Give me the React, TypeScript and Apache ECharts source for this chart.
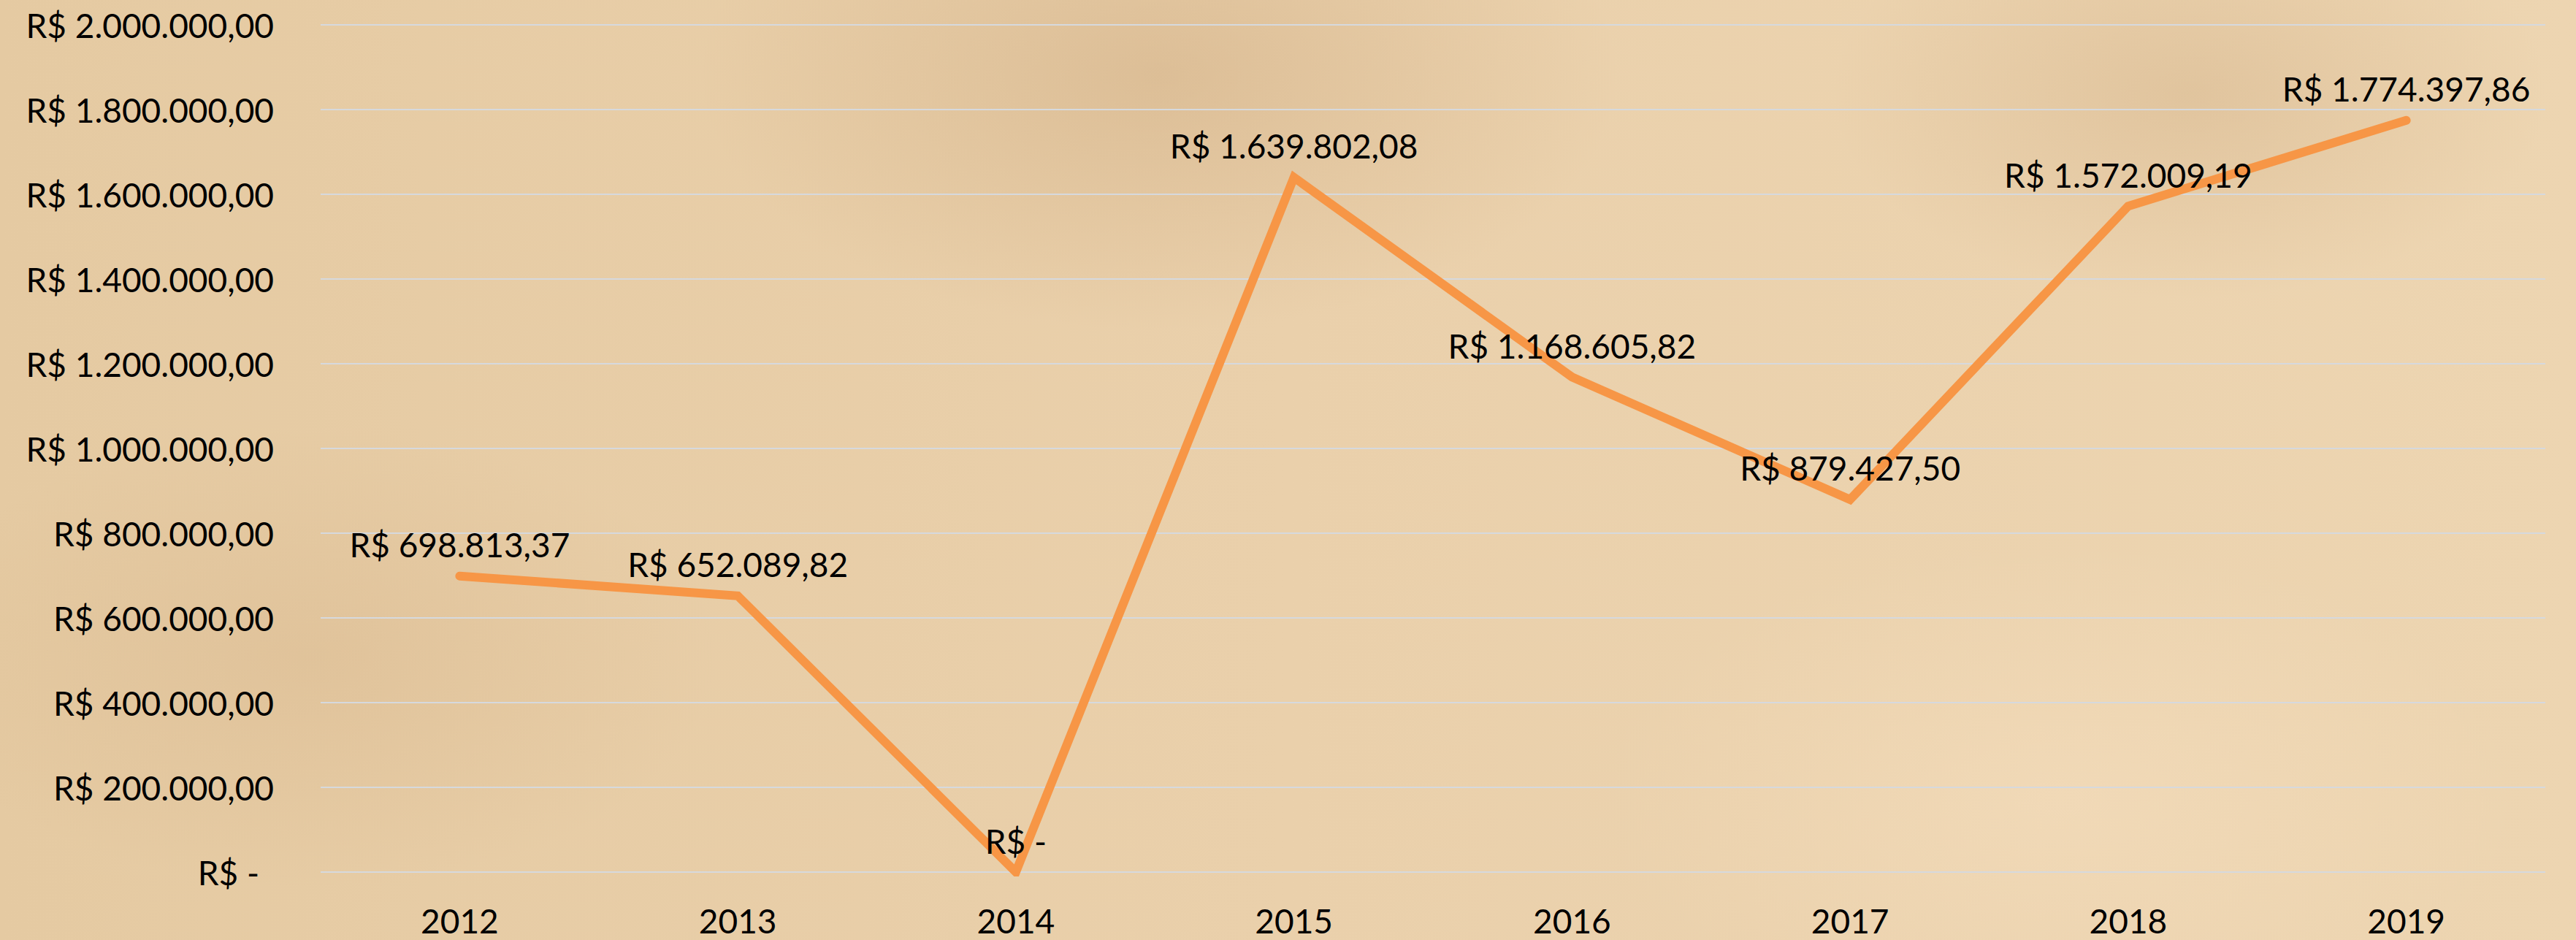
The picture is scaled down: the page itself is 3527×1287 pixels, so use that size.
import React, { useEffect, useRef } from "react";
import * as echarts from "echarts";

const years = ["2012", "2013", "2014", "2015", "2016", "2017", "2018", "2019"];
const revenue = [698813.37, 652089.82, 0, 1639802.08, 1168605.82, 879427.5, 1572009.19, 1774397.86];
const yMin = 0;
const yMax = 2000000;
const yStep = 200000;

function brl(v: number): string {
  if (v === 0) return "R$ -";
  const [i, d] = v.toFixed(2).split(".");
  const grouped = i.replace(/\B(?=(\d{3})+(?!\d))/g, ".");
  return "R$ " + grouped + "," + d;
}

const FONT = "Lato, 'Open Sans', sans-serif";
const FS = 46;

export default function App() {
  const ref = useRef<HTMLDivElement>(null);
  useEffect(() => {
    document.body.style.margin = "0";
    const chart = echarts.init(ref.current!, null, { renderer: "svg" });
    chart.setOption({
      animation: false,
      backgroundColor: "transparent",
      grid: { left: 439, right: 42, top: 34, bottom: 93, containLabel: false },
      xAxis: {
        type: "category",
        data: years,
        boundaryGap: true,
        axisLine: { show: false },
        axisTick: { show: false },
        axisLabel: { color: "#000", fontSize: FS, fontFamily: FONT, margin: 43 },
      },
      yAxis: {
        type: "value",
        min: yMin,
        max: yMax,
        interval: yStep,
        axisLine: { show: false },
        axisTick: { show: false },
        splitLine: { show: true, lineStyle: { color: "#D6D9DD", width: 2 } },
        axisLabel: {
          color: "#000",
          fontSize: FS,
          fontFamily: FONT,
          margin: 64,
          formatter: (v: number) => (v === 0 ? "{z|R$ -}" : brl(v)),
          rich: { z: { fontSize: FS, fontFamily: FONT, color: "#000", padding: [0, 20, 0, 0] } },
        },
      },
      series: [
        {
          type: "line",
          data: revenue,
          symbol: "circle",
          symbolSize: 2,
          itemStyle: { color: "#F79646" },
          lineStyle: { color: "#F79646", width: 12, cap: "round", join: "miter" },
          label: {
            show: true,
            position: "top",
            distance: 19,
            color: "#000",
            fontSize: FS,
            fontFamily: FONT,
            formatter: (p: any) => brl(p.value),
          },
        },
      ],
    });
    return () => chart.dispose();
  }, []);
  return (
    <div
      style={{
        position: "absolute",
        left: 0,
        top: 0,
        width: 3527,
        height: 1287,
        background:
          "radial-gradient(ellipse 900px 500px at 45% 8%, rgba(190,150,105,0.30), rgba(190,150,105,0) 70%)," +
          "radial-gradient(ellipse 700px 400px at 85% 10%, rgba(190,150,105,0.25), rgba(190,150,105,0) 70%)," +
          "radial-gradient(ellipse 800px 450px at 12% 70%, rgba(200,160,115,0.20), rgba(200,160,115,0) 70%)," +
          "radial-gradient(ellipse 900px 500px at 80% 85%, rgba(250,228,198,0.35), rgba(250,228,198,0) 70%)," +
          "linear-gradient(90deg, #E5CAA2 0%, #EAD0AB 50%, #EDD5B1 100%)",
      }}
    >
      <div ref={ref} style={{ width: 3527, height: 1287 }} />
    </div>
  );
}
